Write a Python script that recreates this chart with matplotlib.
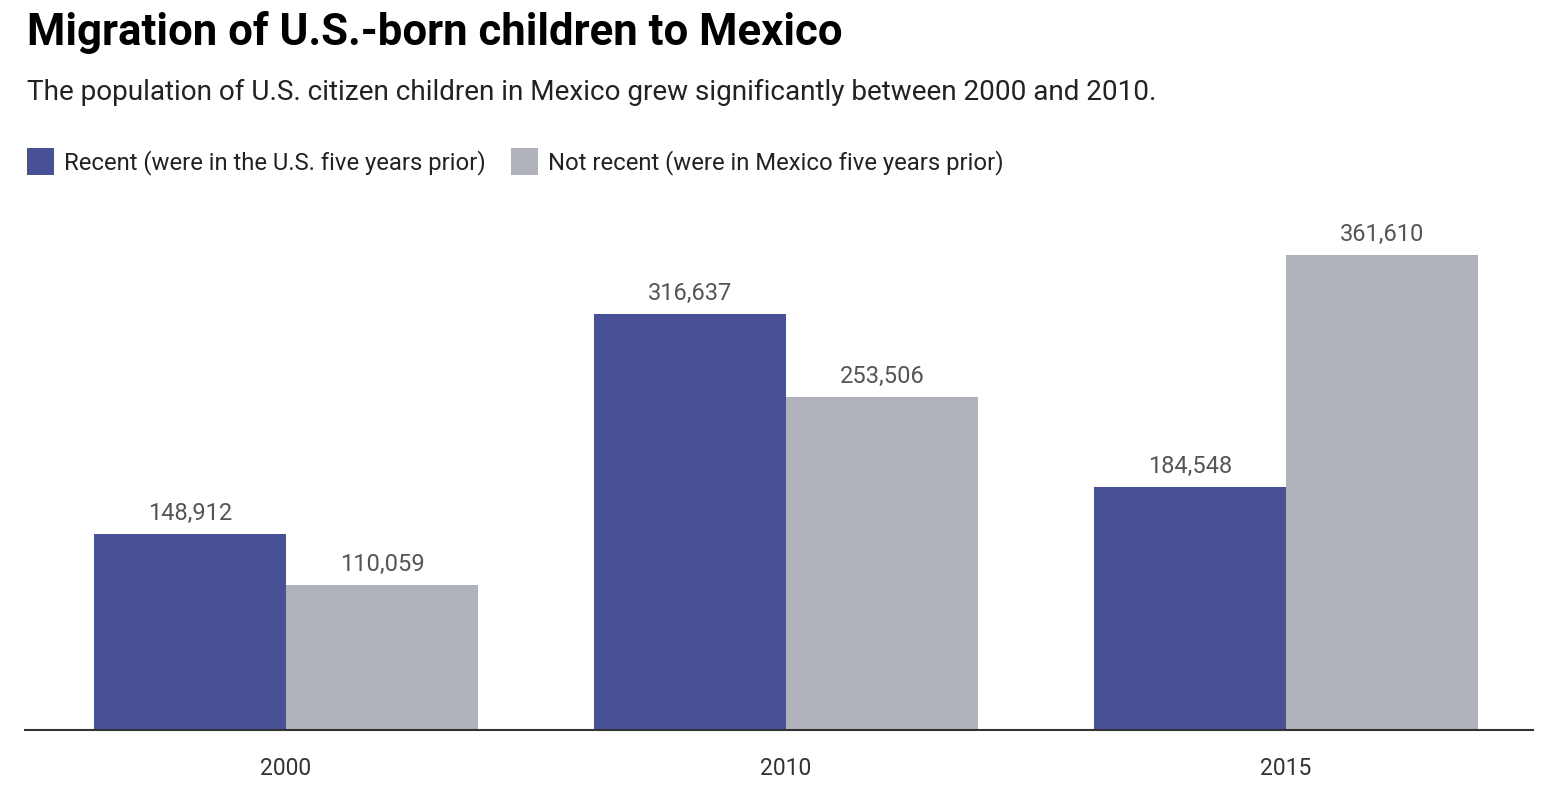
import matplotlib
matplotlib.use("Agg")
import matplotlib.pyplot as plt
from matplotlib.patches import Rectangle
import numpy as np

years = ["2000", "2010", "2015"]
recent = [148912, 316637, 184548]
not_recent = [110059, 253506, 361610]
series_names = ["Recent (were in the U.S. five years prior)",
                "Not recent (were in Mexico five years prior)"]
title = "Migration of U.S.-born children to Mexico"
subtitle = "The population of U.S. citizen children in Mexico grew significantly between 2000 and 2010."

BLUE = "#485096"
GRAY = "#afb2ba"

W, H = 1556, 812
plt.rcParams['font.family'] = ['Roboto', 'DejaVu Sans']
fig = plt.figure(figsize=(W / 100, H / 100), dpi=100)

def fx(px):
    return px / W

def fy(py):
    return 1 - py / H

ax_top, ax_bot, ax_left, ax_right = 200, 731, 25, 1533
ax = fig.add_axes([fx(ax_left), fy(ax_bot), (ax_right - ax_left) / W, (ax_bot - ax_top) / H])

x = np.arange(len(years))
bw = 0.384
b1 = ax.bar(x - bw / 2, recent, width=bw, color=BLUE, linewidth=0)
b2 = ax.bar(x + bw / 2, not_recent, width=bw, color=GRAY, linewidth=0)

ax.set_xlim(-0.522, 2.494)
ax.set_ylim(0, 404000)

for bars, vals in ((b1, recent), (b2, not_recent)):
    for rect, v in zip(bars, vals):
        ax.annotate(f"{v:,}", (rect.get_x() + rect.get_width() / 2, v),
                    xytext=(0, 15 * 0.72), textcoords="offset points",
                    ha="center", va="baseline", fontsize=17, color="#555555")

for s in ("top", "right", "left"):
    ax.spines[s].set_visible(False)
ax.spines["bottom"].set_color("#333333")
ax.spines["bottom"].set_linewidth(1.5)
ax.set_yticks([])
ax.set_xticks(x)
ax.set_xticklabels(years, fontsize=16.5, color="#333333")
ax.tick_params(axis="x", length=0, pad=19)

fig.text(fx(27), fy(45), title, fontsize=31.5, fontweight="bold", color="#000000", va="baseline", ha="left")
fig.text(fx(27), fy(100), subtitle, fontsize=20.1, color="#222222", va="baseline", ha="left")

# legend
sq = 27
items = [(27, BLUE, series_names[0]), (511, GRAY, series_names[1])]
for lx, col, name in items:
    fig.patches.append(Rectangle((fx(lx), fy(149 + sq)), sq / W, sq / H,
                                 transform=fig.transFigure, color=col, linewidth=0))
    fig.text(fx(lx + 37), fy(169), name, fontsize=17.2, color="#222222", va="baseline", ha="left")

fig.savefig("out.png", dpi=100, facecolor="white")
